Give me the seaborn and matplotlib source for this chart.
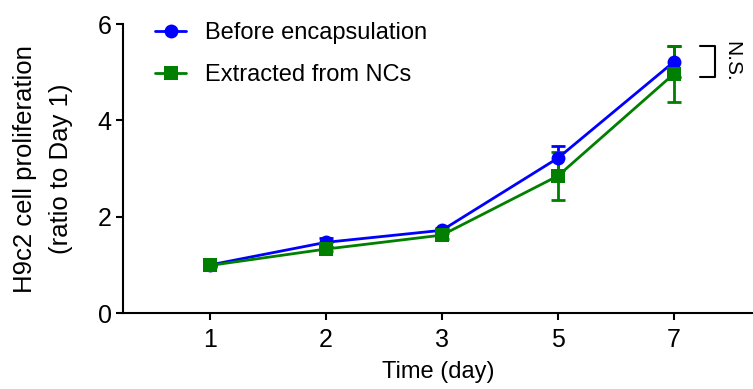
import numpy as np
import pandas as pd
import matplotlib
matplotlib.use('Agg')
import matplotlib.pyplot as plt
import seaborn as sns

# ── Data ─────────────────────────────────────────────────────
days = ['1', '2', '3', '5', '7']
before_mean = [1.00, 1.47, 1.72, 3.22, 5.22]
before_err = [0.03, 0.10, 0.05, 0.25, 0.32]
extracted_mean = [0.99, 1.33, 1.62, 2.85, 4.97]
extracted_err = [0.03, 0.05, 0.08, 0.50, 0.58]

df = pd.DataFrame({
    'Day': days * 2,
    'Value': before_mean + extracted_mean,
    'Group': ['Before encapsulation'] * len(days) + ['Extracted from NCs'] * len(days),
})

sns.set_style('ticks')
plt.rcParams['font.family'] = ['Liberation Sans', 'DejaVu Sans']
plt.rcParams['text.color'] = 'black'
plt.rcParams['axes.labelcolor'] = 'black'
plt.rcParams['xtick.color'] = 'black'
plt.rcParams['ytick.color'] = 'black'

fig = plt.figure(figsize=(7.53, 3.89), dpi=100)
ax = fig.add_axes([0.163, 0.195, 0.837, 0.743])

colors = {'Before encapsulation': '#0000FF', 'Extracted from NCs': '#007F00'}
markers = {'Before encapsulation': 'o', 'Extracted from NCs': 's'}
errs = {'Before encapsulation': before_err, 'Extracted from NCs': extracted_err}

sns.lineplot(data=df, x='Day', y='Value', hue='Group', style='Group',
             palette=colors, markers=markers, dashes=False, linewidth=2,
             markersize=10, markeredgewidth=0, sort=False, ax=ax)

xpos = np.arange(len(days))
for grp in ['Before encapsulation', 'Extracted from NCs']:
    sub = df[df['Group'] == grp]
    ax.errorbar(xpos, sub['Value'].values, yerr=errs[grp], fmt='none',
                ecolor=colors[grp], elinewidth=2, capsize=5, capthick=2, zorder=1)

ax.set_xlim(-0.75, 4.68)
ax.set_ylim(0, 6)
ax.set_yticks([0, 2, 4, 6])
ax.tick_params(axis='both', labelsize=18, width=1.5, length=5, color='black', pad=3)
ax.tick_params(axis='x', pad=6)
ax.set_xlabel('Time (day)', fontsize=17, labelpad=6)
ax.set_ylabel('H9c2 cell proliferation\n(ratio to Day 1)', fontsize=18.5,
              labelpad=18, linespacing=1.6)
for s in ['left', 'bottom']:
    ax.spines[s].set_linewidth(1.5)
    ax.spines[s].set_color('black')
sns.despine(ax=ax)

leg = ax.legend(loc='upper left', bbox_to_anchor=(0.018, 1.08), frameon=False,
                fontsize=17, handlelength=1.3, handletextpad=0.8, labelspacing=0.85)

# N.S. bracket between day-7 groups
ax.plot([4.22, 4.35, 4.35, 4.22], [5.55, 5.55, 4.9, 4.9], color='black',
        lw=1.5, clip_on=False)
ax.text(4.5, 5.22, 'N.S.', rotation=-90, ha='center', va='center', fontsize=15)

plt.savefig('out.png', dpi=100)
